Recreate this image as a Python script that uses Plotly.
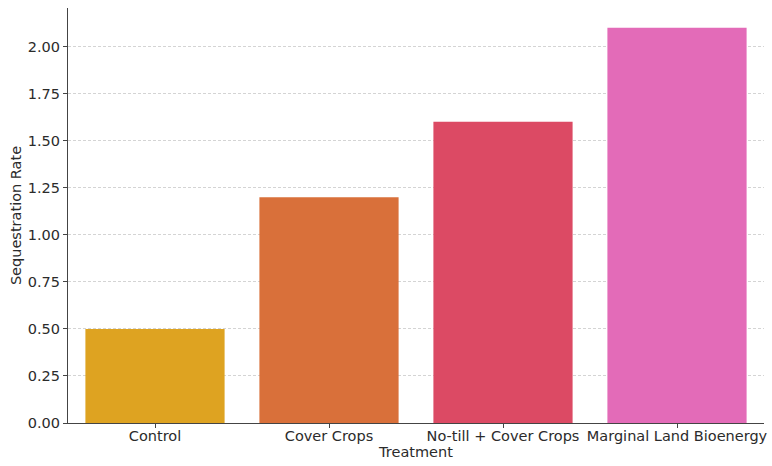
import plotly.graph_objects as go

# Soil carbon sequestration rate by treatment
treatments = ["Control", "Cover Crops", "No-till + Cover Crops", "Marginal Land Bioenergy"]
rates = [0.5, 1.2, 1.6, 2.1]
bar_colors = ["#DEA321", "#D9703A", "#DC4A64", "#E36BB8"]
y_ticks = [0.0, 0.25, 0.5, 0.75, 1.0, 1.25, 1.5, 1.75, 2.0]
y_tick_text = [f"{v:.2f}" for v in y_ticks]

font_family = "DejaVu Sans"
text_color = "#2b2b2b"
fs = 14.5

fig = go.Figure(
    go.Bar(
        x=treatments,
        y=rates,
        width=0.8,
        marker=dict(color=bar_colors, line=dict(width=0)),
    )
)

fig.update_layout(
    width=772,
    height=466,
    margin=dict(l=68, r=8, t=8, b=43),
    paper_bgcolor="white",
    plot_bgcolor="white",
    font=dict(family=font_family, size=fs, color=text_color),
    showlegend=False,
    bargap=0.2,
)

fig.update_xaxes(
    range=[-0.5, 3.5],
    automargin=False,
    showline=True,
    linecolor="#444444",
    linewidth=1.2,
    ticks="outside",
    ticklen=4,
    tickcolor="#444444",
    ticklabelstandoff=-5,
    showgrid=False,
    title=dict(text="Treatment", font=dict(size=fs, color=text_color), standoff=4),
    tickfont=dict(size=fs, color=text_color),
)

fig.update_yaxes(
    range=[0, 2.205],
    automargin=False,
    tickvals=y_ticks,
    ticktext=y_tick_text,
    showline=True,
    linecolor="#444444",
    linewidth=1.2,
    ticks="outside",
    ticklen=4,
    tickcolor="#444444",
    showgrid=True,
    gridcolor="#d4d4d4",
    griddash="3px,2px",
    gridwidth=0.8,
    zeroline=False,
    title=dict(text="Sequestration Rate", font=dict(size=fs, color=text_color), standoff=2),
    tickfont=dict(size=fs, color=text_color),
)

fig.write_html("out.html")
